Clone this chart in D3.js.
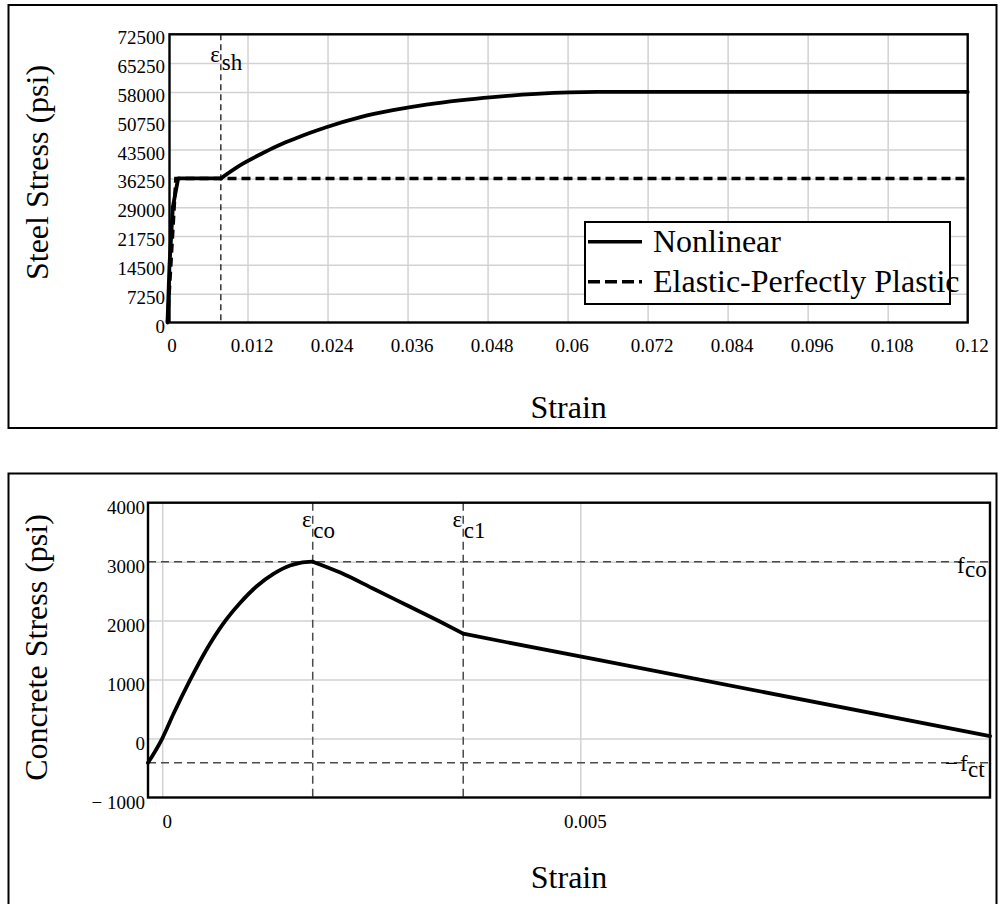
<!DOCTYPE html>
<html>
<head>
<meta charset="utf-8">
<script src="https://cdn.jsdelivr.net/npm/d3@7"></script>
<style>
  body { margin: 0; background: #fff; }
  svg { display: block; }
  text { font-family: "Liberation Serif", "Times New Roman", serif; fill: #000; }
</style>
</head>
<body>
<svg id="chart" width="1003" height="904"></svg>
<script>
// ---------- Steel: stress-strain ----------
const steelStrainTicks = [0, 0.012, 0.024, 0.036, 0.048, 0.06, 0.072, 0.084, 0.096, 0.108, 0.12];
const steelStrainLabels = ["0", "0.012", "0.024", "0.036", "0.048", "0.06", "0.072", "0.084", "0.096", "0.108", "0.12"];
const steelStressTicks = [0, 7250, 14500, 21750, 29000, 36250, 43500, 50750, 58000, 65250, 72500];
const steelStressLabels = ["0", "7250", "14500", "21750", "29000", "36250", "43500", "50750", "58000", "65250", "72500"];

// Nonlinear steel curve (strain, psi): elastic rise and yield plateau
const plateauStrain = [0, 0.0003, 0.0008, 0.0016, 0.0080];
const plateauStress = [0, 14500, 29000, 36250, 36250];
// strain-hardening branch up to ultimate, then flat
const hardeningStrain = [0.0080, 0.0113, 0.0138, 0.0163, 0.0188, 0.0213, 0.0238,
  0.0288, 0.0338, 0.0388, 0.0438, 0.0488, 0.0553, 0.0644, 0.12];
const hardeningStress = [36250, 39950, 42200, 44280, 46030, 47650, 49120,
  51600, 53400, 54820, 55900, 56720, 57500, 58000, 58000];

// Elastic-perfectly plastic curve
const eppStrain = [0, 0.00125, 0.12];
const eppStress = [0, 36250, 36250];

const epsSh = 0.008;

// ---------- Concrete: stress-strain ----------
const concreteStrainTicks = [0, 0.005];
const concreteStrainLabels = ["0", "0.005"];
const concreteStressTicks = [-1000, 0, 1000, 2000, 3000, 4000];
const concreteStressLabels = ["\u2212 1000", "0", "1000", "2000", "3000", "4000"];

// tension + ascending branch up to the peak
const ascendStrain = [-0.00017, 0, 0.000135, 0.000334, 0.000534, 0.000732, 0.000931, 0.00113, 0.00133,
  0.00153, 0.00165, 0.0018];
const ascendStress = [-411, 0, 420, 995, 1520, 1955, 2300, 2583, 2792, 2935, 2980, 3000];
// softening branch from the peak to eps_c1
const softenStrain = [0.0018, 0.00213, 0.00252, 0.00292, 0.00332, 0.0036];
const softenStress = [3000, 2815, 2545, 2265, 1985, 1779];
// residual branch
const residualStrain = [0.0036, 0.00412, 0.00523, 0.0099];
const residualStress = [1779, 1633, 1330, 42];

const epsCo = 0.0018;
const epsC1 = 0.0036;
const fCo = 3000;
const fCt = -411;

const svg = d3.select("#chart");
const GRID = "#d2d2d2";
const REF = "#4a4a4a";

const zip = (xsArr, ysArr) => xsArr.map((v, i) => [v, ysArr[i]]);

// Outer panel frames
svg.append("rect").attr("x", 8.5).attr("y", 5).attr("width", 988).attr("height", 423)
  .attr("fill", "none").attr("stroke", "#000").attr("stroke-width", 2);
svg.append("rect").attr("x", 8.5).attr("y", 473.5).attr("width", 988).attr("height", 440)
  .attr("fill", "none").attr("stroke", "#000").attr("stroke-width", 2);

function styleAxisText(g, dx, dy, anchor) {
  g.select(".domain").remove();
  g.selectAll(".tick line").remove();
  g.selectAll(".tick text")
    .attr("dy", null).attr("x", dx).attr("y", dy)
    .attr("text-anchor", anchor)
    .style("font-size", "19px");
}

function gridLines(g, axis) {
  g.call(axis);
  g.select(".domain").remove();
  g.selectAll(".tick text").remove();
  g.selectAll(".tick line").attr("stroke", GRID).attr("stroke-width", 1.5);
}

function curvePath(data, line, width) {
  return svg.append("path").datum(data).attr("d", line)
    .attr("fill", "none").attr("stroke", "#000").attr("stroke-width", width)
    .attr("stroke-linejoin", "round").attr("stroke-linecap", "round");
}

// ================= Steel panel =================
const s = { left: 169.5, right: 967.7, top: 34.3, bottom: 322.5 };
const xs = d3.scaleLinear().domain([0, 0.12]).range([167.5, s.right]);
const ys = d3.scaleLinear().domain([0, 72500]).range([s.bottom, s.top]);

gridLines(svg.append("g").attr("transform", `translate(0,${s.bottom})`),
  d3.axisBottom(xs).tickValues(steelStrainTicks.slice(1, -1)).tickSize(-(s.bottom - s.top)));
gridLines(svg.append("g").attr("transform", `translate(${s.left},0)`),
  d3.axisLeft(ys).tickValues(steelStressTicks.slice(1, -1)).tickSize(-(s.right - s.left)));

// strain-hardening onset marker
svg.append("line")
  .attr("x1", xs(epsSh)).attr("x2", xs(epsSh)).attr("y1", s.top).attr("y2", s.bottom)
  .attr("stroke", "#000").attr("stroke-width", 1.2).attr("stroke-dasharray", "6,4");

const steelLinear = d3.line().x(d => xs(d[0])).y(d => ys(d[1]));
const steelSmooth = d3.line().x(d => xs(d[0])).y(d => ys(d[1])).curve(d3.curveMonotoneX);
svg.append("path")
  .datum(zip(eppStrain, eppStress))
  .attr("d", steelLinear).attr("fill", "none").attr("stroke", "#000")
  .attr("stroke-width", 3.5).attr("stroke-dasharray", "9,5");
curvePath(zip(plateauStrain, plateauStress), steelLinear, 3.8);
curvePath(zip(hardeningStrain, hardeningStress), steelSmooth, 3.8);

svg.append("rect").attr("x", s.left).attr("y", s.top)
  .attr("width", s.right - s.left).attr("height", s.bottom - s.top)
  .attr("fill", "none").attr("stroke", "#000").attr("stroke-width", 2.4);

svg.append("g").attr("transform", `translate(0,${s.bottom})`)
  .call(d3.axisBottom(xs).tickValues(steelStrainTicks).tickFormat((d, i) => steelStrainLabels[i]))
  .call(g => styleAxisText(g, 4, 29.5, "middle"));
svg.append("g").attr("transform", `translate(${s.left},0)`)
  .call(d3.axisLeft(ys).tickValues(steelStressTicks).tickFormat((d, i) => steelStressLabels[i]))
  .call(g => styleAxisText(g, -4.5, 9.5, "end"));

// epsilon_sh label
const shLab = svg.append("g").style("font-size", "23px");
shLab.append("text").attr("x", xs(epsSh) - 1).attr("y", s.top + 27.5).attr("text-anchor", "end").text("\u03b5");
shLab.append("text").attr("x", xs(epsSh) + 1).attr("y", s.top + 35.7).text("sh");

// legend
const lg = svg.append("g");
lg.append("rect").attr("x", 585).attr("y", 222).attr("width", 365).attr("height", 82)
  .attr("fill", "#fff").attr("stroke", "#000").attr("stroke-width", 2);
lg.append("line").attr("x1", 588).attr("x2", 642).attr("y1", 241.7).attr("y2", 241.7)
  .attr("stroke", "#000").attr("stroke-width", 3.5);
lg.append("line").attr("x1", 588).attr("x2", 642).attr("y1", 281.7).attr("y2", 281.7)
  .attr("stroke", "#000").attr("stroke-width", 3.5).attr("stroke-dasharray", "12,5");
lg.append("text").attr("x", 653).attr("y", 252).style("font-size", "32px").text("Nonlinear");
lg.append("text").attr("x", 653).attr("y", 292).style("font-size", "32px").text("Elastic-Perfectly Plastic");

// axis titles
svg.append("text").attr("transform", "translate(48,172.5) rotate(-90)")
  .attr("text-anchor", "middle").style("font-size", "32px").text("Steel Stress (psi)");
svg.append("text").attr("x", (s.left + s.right) / 2).attr("y", 418)
  .attr("text-anchor", "middle").style("font-size", "32px").text("Strain");

// ================= Concrete panel =================
const c = { left: 148, right: 990, top: 502.7, bottom: 797.5 };
const xc = d3.scaleLinear().domain([-0.00017, 0.0099]).range([c.left, c.right]);
const yc = d3.scaleLinear().domain([-1000, 4000]).range([c.bottom, c.top]);

gridLines(svg.append("g").attr("transform", `translate(0,${c.bottom})`),
  d3.axisBottom(xc).tickValues(concreteStrainTicks).tickSize(-(c.bottom - c.top)));
gridLines(svg.append("g").attr("transform", `translate(${c.left},0)`),
  d3.axisLeft(yc).tickValues(concreteStressTicks.slice(1, -1)).tickSize(-(c.right - c.left)));

// reference lines
const refs = svg.append("g").attr("stroke", REF).attr("stroke-width", 1.5).attr("stroke-dasharray", "8,5");
[epsCo, epsC1].forEach(e => refs.append("line")
  .attr("x1", xc(e)).attr("x2", xc(e)).attr("y1", c.top).attr("y2", c.bottom));
[fCo, fCt].forEach(f => refs.append("line")
  .attr("x1", c.left).attr("x2", c.right).attr("y1", yc(f)).attr("y2", yc(f)));

const concLinear = d3.line().x(d => xc(d[0])).y(d => yc(d[1]));
const concSmooth = d3.line().x(d => xc(d[0])).y(d => yc(d[1])).curve(d3.curveMonotoneX);
curvePath(zip(ascendStrain, ascendStress), concSmooth, 3.8);
curvePath(zip(softenStrain, softenStress), concSmooth, 3.8);
curvePath(zip(residualStrain, residualStress), concLinear, 3.8);

svg.append("rect").attr("x", c.left).attr("y", c.top)
  .attr("width", c.right - c.left).attr("height", c.bottom - c.top)
  .attr("fill", "none").attr("stroke", "#000").attr("stroke-width", 2.4);

svg.append("g").attr("transform", `translate(0,${c.bottom})`)
  .call(d3.axisBottom(xc).tickValues(concreteStrainTicks).tickFormat((d, i) => concreteStrainLabels[i]))
  .call(g => styleAxisText(g, 4.5, 30.5, "middle"));
svg.append("g").attr("transform", `translate(${c.left},0)`)
  .call(d3.axisLeft(yc).tickValues(concreteStressTicks).tickFormat((d, i) => concreteStressLabels[i]))
  .call(g => styleAxisText(g, -3, 11, "end"));

// reference labels
const cl = svg.append("g").style("font-size", "23px");
cl.append("text").attr("x", xc(epsCo) - 1).attr("y", c.top + 24.3).attr("text-anchor", "end").text("\u03b5");
cl.append("text").attr("x", xc(epsCo) + 0.5).attr("y", c.top + 35.6).text("co");
cl.append("text").attr("x", xc(epsC1) - 1).attr("y", c.top + 24.3).attr("text-anchor", "end").text("\u03b5");
cl.append("text").attr("x", xc(epsC1) + 0.5).attr("y", c.top + 35.6).text("c1");
cl.append("text").attr("x", 957).attr("y", yc(fCo) + 11).text("f");
cl.append("text").attr("x", 965).attr("y", yc(fCo) + 15).text("co");
cl.append("text").attr("x", 958).attr("y", yc(fCt) + 8).attr("text-anchor", "end").text("\u2212");
cl.append("text").attr("x", 960).attr("y", yc(fCt) + 8).text("f");
cl.append("text").attr("x", 968).attr("y", yc(fCt) + 14.5).text("ct");

svg.append("text").attr("transform", "translate(47,647.5) rotate(-90)")
  .attr("text-anchor", "middle").style("font-size", "32px").text("Concrete Stress (psi)");
svg.append("text").attr("x", (c.left + c.right) / 2).attr("y", 888)
  .attr("text-anchor", "middle").style("font-size", "32px").text("Strain");
</script>
</body>
</html>
